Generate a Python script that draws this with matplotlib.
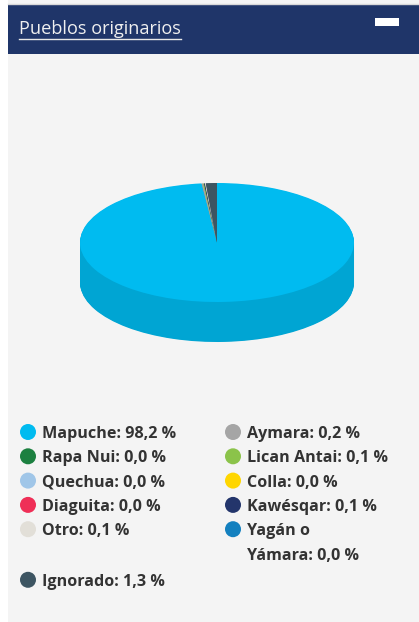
import numpy as np
import matplotlib
matplotlib.use("Agg")
from matplotlib import pyplot as plt
from matplotlib.patches import Rectangle, Circle
from matplotlib.colors import to_rgb

plt.rcParams["font.family"] = ["Open Sans", "DejaVu Sans"]

# data (legend is filled row by row, two columns)
names = [
    "Mapuche", "Aymara", "Rapa Nui", "Lican Antai", "Quechua", "Colla",
    "Diaguita", "Kawésqar", "Otro", "Yagán o\nYámara", "Ignorado",
]
values = [98.2, 0.2, 0.0, 0.1, 0.0, 0.0, 0.0, 0.1, 0.1, 0.0, 1.3]
colors = [
    "#00bbf0", "#a5a5a5", "#1c8040", "#8bc34a", "#a0c6e8", "#ffd600",
    "#ef2f57", "#23356b", "#e2dfd8", "#1380bf", "#3d5562",
]
title = "Pueblos originarios"

W, H = 419, 622
fig = plt.figure(figsize=(W / 100, H / 100), dpi=100)
fig.patch.set_facecolor("white")

bg = fig.add_axes([0, 0, 1, 1])
bg.set_xlim(0, W)
bg.set_ylim(H, 0)
bg.axis("off")
bg.add_patch(Rectangle((8, 0), W - 8, H, color="#f4f4f4", lw=0))
bg.add_patch(Rectangle((8, 4), W - 8, 50, color="#1f3569", lw=0))
bg.plot([8, W], [4, 4], color="#d8d8d8", lw=1)
bg.add_patch(Rectangle((375, 18), 24, 8, color="white", lw=0))

t = bg.text(19, 29, title, color="#f0f0f0", fontsize=13.1, va="center", ha="left")
fig.canvas.draw()
bb = t.get_window_extent().transformed(bg.transData.inverted())
bg.plot([bb.x0, bb.x1], [39, 39], color="#e8e8e8", lw=1)

# 3d pie: stacked pies for the side, then the top face
pie_ax = fig.add_axes([80 / W, (H - 342) / H, 274 / W, 159 / H])
depth = 40 / 59.5
side_colors = [tuple(c * 0.88 for c in to_rgb(col)) for col in colors]
pie_vals = [v if v > 0 else 1e-9 for v in values]
for dy in np.linspace(-depth, 0, 60)[:-1]:
    pie_ax.pie(pie_vals, colors=side_colors, startangle=90, counterclock=False,
               center=(0, dy), radius=1, wedgeprops=dict(lw=0, antialiased=True))
pie_ax.pie(pie_vals, colors=colors, startangle=90, counterclock=False,
           center=(0, 0), radius=1, wedgeprops=dict(lw=0))
pie_ax.set_aspect("auto")
pie_ax.set_xlim(-1, 1)
pie_ax.set_ylim(-1 - depth, 1)
pie_ax.axis("off")

# legend
col_x = [28, 233]
row_y = 432
line_h = 24.3
for r in range(0, len(names), 2):
    row = list(zip(names[r:r + 2], values[r:r + 2], colors[r:r + 2]))
    n_lines = 1
    for c, (name, v, col) in enumerate(row):
        label = f"{name}: {v:.1f} %".replace(".", ",")
        lines = label.split("\n")
        n_lines = max(n_lines, len(lines))
        bg.add_patch(Circle((col_x[c], row_y), 8, color=col, lw=0))
        for k, ln in enumerate(lines):
            bg.text(col_x[c] + 14, row_y + k * line_h, ln, fontsize=11.6,
                    fontweight="bold", color="#333333", va="center_baseline", ha="left")
    row_y += line_h * n_lines + (2 if n_lines > 1 else 0)

fig.savefig("out.png", dpi=100, facecolor=fig.get_facecolor())
